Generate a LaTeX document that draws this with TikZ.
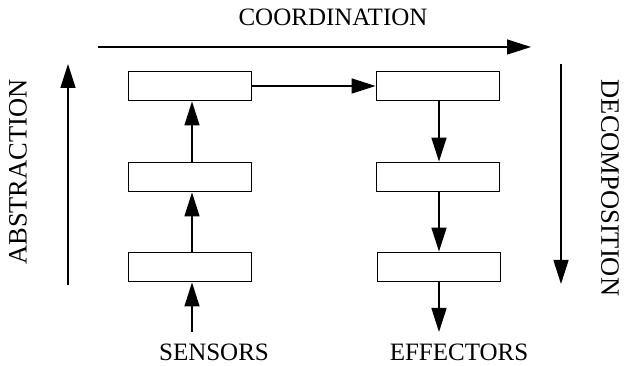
\documentclass[tikz,border=0pt]{standalone}
\usepackage{fontspec}
\setmainfont{Liberation Serif}
\usetikzlibrary{arrows.meta}
\begin{document}
\begin{tikzpicture}[x=1pt,y=-1pt,
  blk/.style={draw,line width=1.8pt,minimum width=123pt,minimum height=29pt,inner sep=0pt},
  lbl/.style={font=\fontsize{25}{28}\selectfont,inner sep=0pt},
  vlbl/.style={font=\fontsize{26.5}{30}\selectfont,inner sep=0pt},
  arr/.style={line width=1.5pt,-{Triangle[length=24pt,width=15pt]}}]
\useasboundingbox (0,0) rectangle (625,366);
\node[blk] (l1) at (190,86) {};
\node[blk] (l2) at (190,177) {};
\node[blk] (l3) at (190,267) {};
\node[blk] (r1) at (438,86) {};
\node[blk] (r2) at (438,177) {};
\node[blk] (r3) at (439,267) {};
\node[lbl] (coord) at (333,17) {COORDINATION};
\node[vlbl,rotate=90] (abs) at (18,172) {ABSTRACTION};
\node[vlbl,rotate=-90] (dec) at (610,188) {DECOMPOSITION};
\node[lbl] (sens) at (214,352) {SENSORS};
\node[lbl] (eff) at (459,352) {EFFECTORS};
\coordinate (ts) at (98,47);
\coordinate (te) at (531,47);
\coordinate (as) at (68,285);
\coordinate (ae) at (68,64);
\coordinate (ds) at (561,64);
\coordinate (de) at (561,284);
\coordinate (ss) at (192,332);
\coordinate (ee) at (439,332);
\draw[arr] (ts) -- (te);
\draw[arr] (as) -- (ae);
\draw[arr] (ds) -- (de);
\draw[arr] (ss) -- (l3.south -| ss);
\draw[arr] (l3.north -| ss) -- (l2.south -| ss);
\draw[arr] (l2.north -| ss) -- (l1.south -| ss);
\draw[arr] (l1.east) -- (r1.west);
\draw[arr] (r1.south -| ee) -- (r2.north -| ee);
\draw[arr] (r2.south -| ee) -- (r3.north -| ee);
\draw[arr] (r3.south -| ee) -- (ee);
\end{tikzpicture}
\end{document}
